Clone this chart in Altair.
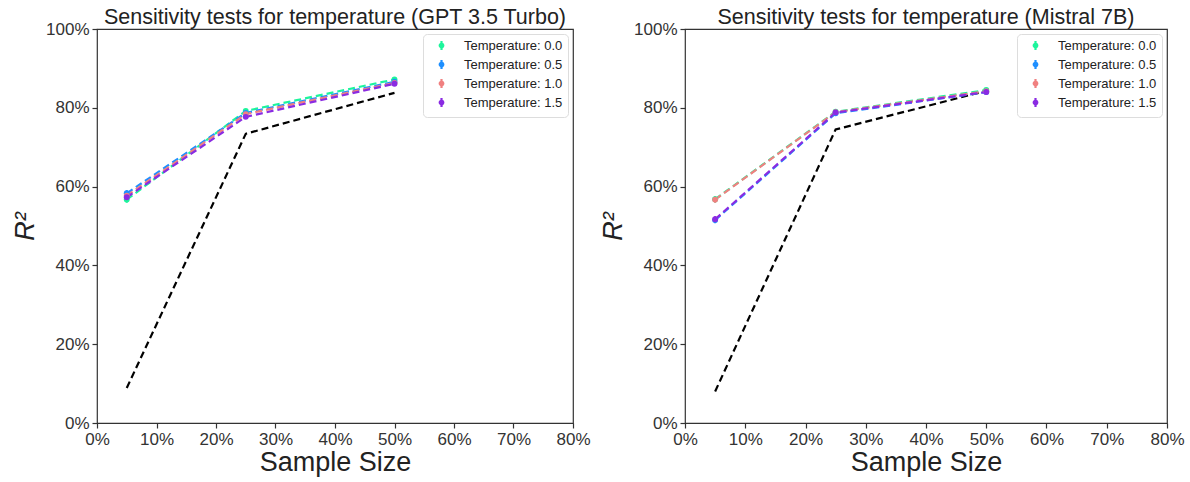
import altair as alt
import pandas as pd

samples = [0.05, 0.25, 0.50]
temps = ["Temperature: 0.0", "Temperature: 0.5", "Temperature: 1.0", "Temperature: 1.5"]
colors = ["#1df59c", "#1e8fff", "#f08080", "#8a2be2"]

# GPT 3.5 Turbo
gpt_t00 = [0.567, 0.792, 0.872]
gpt_t05 = [0.583, 0.787, 0.866]
gpt_t10 = [0.577, 0.784, 0.863]
gpt_t15 = [0.573, 0.777, 0.861]
gpt_err = [0.008, 0.004, 0.003]
gpt_base = [0.089, 0.734, 0.838]

# Mistral 7B
mis_t00 = [0.568, 0.790, 0.845]
mis_t05 = [0.515, 0.786, 0.840]
mis_t10 = [0.567, 0.789, 0.842]
mis_t15 = [0.517, 0.788, 0.840]
mis_err = [0.008, 0.004, 0.003]
mis_base = [0.080, 0.745, 0.843]

FONT = "Liberation Sans"
SYMBOL = "M0,-1V1M-0.4,0a0.4,0.4 0 1,0 0.8,0a0.4,0.4 0 1,0 -0.8,0"


def panel(title, series, base, err, width, height):
    rows = []
    for t, vals in zip(temps, series):
        for s, v, e in zip(samples, vals, err):
            rows.append({"temp": t, "sample": s, "r2": v, "lo": v - e, "hi": v + e})
    df = pd.DataFrame(rows)
    bdf = pd.DataFrame({"sample": samples, "r2": base})

    xs = alt.X("sample:Q", title="Sample Size",
               scale=alt.Scale(domain=[0, 0.8], nice=False),
               axis=alt.Axis(format=".0%", values=[0, 0.1, 0.2, 0.3, 0.4, 0.5, 0.6, 0.7, 0.8],
                             labelFlush=False, labelOverlap=False))
    ys = alt.Y("r2:Q", title="R²",
               scale=alt.Scale(domain=[0, 1], nice=False),
               axis=alt.Axis(format=".0%", values=[0, 0.2, 0.4, 0.6, 0.8, 1.0],
                             titleFontStyle="italic", labelFlush=False, labelOverlap=False))
    cscale = alt.Scale(domain=temps, range=colors)
    color = alt.Color("temp:N", scale=cscale,
                      legend=alt.Legend(title=None, orient="top-right", offset=5,
                                        symbolType=SYMBOL, symbolSize=80,
                                        symbolStrokeWidth=2.2, symbolDash=[1, 0],
                                        labelFontSize=13, labelFont=FONT, labelColor="#222",
                                        strokeColor="#dddddd", cornerRadius=4,
                                        fillColor="white", padding=5, rowPadding=0,
                                        labelOffset=16, symbolOffset=7))

    baseline = alt.Chart(bdf).mark_line(color="black", strokeDash=[7, 4], strokeWidth=2.2).encode(
        x=xs, y=ys)
    lines = alt.Chart(df).mark_line(strokeDash=[7, 4], strokeWidth=2.2).encode(
        x=xs, y=ys, color=color, order=alt.Order("sample:Q"))
    bars = alt.Chart(df).mark_rule(strokeWidth=2).encode(
        x="sample:Q", y="lo:Q", y2="hi:Q", color=alt.Color("temp:N", legend=None, scale=cscale))
    pts = alt.Chart(df).mark_point(filled=True, size=35, opacity=1).encode(
        x="sample:Q", y="r2:Q", color=alt.Color("temp:N", legend=None, scale=cscale))
    return alt.layer(baseline, lines, bars, pts).properties(
        width=width, height=height,
        title=alt.TitleParams(title, fontSize=21.5, font=FONT, fontWeight="normal",
                              color="#222", anchor="middle", offset=-8))


left = panel("Sensitivity tests for temperature (GPT 3.5 Turbo)",
             [gpt_t00, gpt_t05, gpt_t10, gpt_t15], gpt_base, gpt_err, 476, 394)
right = panel("Sensitivity tests for temperature (Mistral 7B)",
              [mis_t00, mis_t05, mis_t10, mis_t15], mis_base, mis_err, 482, 394)

chart = alt.hconcat(left, right, spacing=7).resolve_legend(
    color="independent"
).resolve_scale(color="independent").properties(
    padding={"left": 10, "top": 5, "right": 5, "bottom": 5}
).configure_view(
    stroke="#333333", strokeWidth=1.2
).configure_axis(
    domain=False, grid=False, ticks=True, tickSize=5, tickColor="#333333", tickWidth=1.2,
    labelFontSize=17, labelFont=FONT, labelColor="#333333", labelPadding=3,
    titleFontSize=27, titleFont=FONT, titleColor="#222222", titleFontWeight="normal",
    titlePadding=2
).configure_axisY(labelPadding=3, titlePadding=6)

chart.save("out.html", embed_options={"renderer": "svg", "actions": False})
